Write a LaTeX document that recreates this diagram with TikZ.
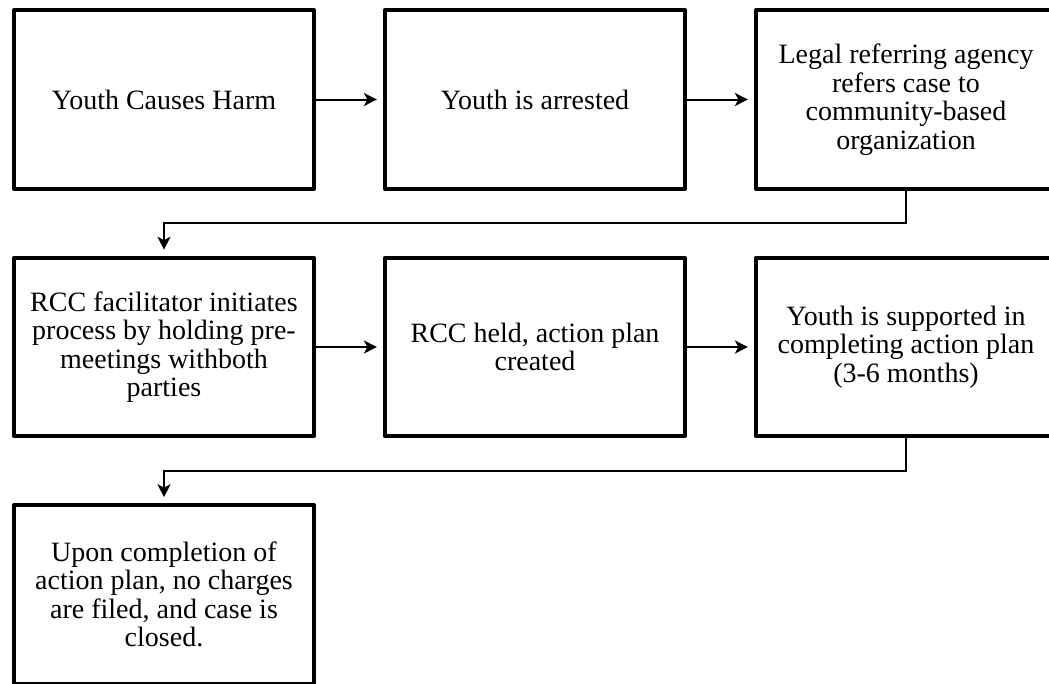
\documentclass[tikz,border=0pt]{standalone}
\usepackage{fontspec}
\setmainfont{Liberation Serif}
\usetikzlibrary{arrows.meta}
\begin{document}
\begin{tikzpicture}[x=1pt,y=-1pt,
  stepbox/.style={draw=black,line width=4.2pt,line join=round,minimum width=300pt,minimum height=178.4pt,
    inner sep=0pt,align=center,font=\fontsize{28pt}{28.5pt}\selectfont},
  conn/.style={line width=2pt,-{Stealth[length=13pt,width=13pt,inset=3.5pt]},shorten >=6pt}]
\useasboundingbox (0,0) rectangle (1049,683);
\node[stepbox] (b1) at (164,99.5) {Youth Causes Harm};
\node[stepbox] (b2) at (535,99.5) {Youth is arrested};
\node[stepbox] (b3) at (906,99.5) {Legal referring agency\\refers case to\\community-based\\organization};
\node[stepbox] (b4) at (164,347) {RCC facilitator initiates\\process by holding pre-\\meetings withboth\\parties};
\node[stepbox] (b5) at (535,347) {RCC held, action plan\\created};
\node[stepbox] (b6) at (906,347) {Youth is supported in\\completing action plan\\(3-6 months)};
\node[stepbox] (b7) at (164,594.5) {Upon completion of\\action plan, no charges\\are filed, and case is\\closed.};
\coordinate (c1) at (906,222.5);
\coordinate (c2) at (164,222.5);
\coordinate (c3) at (906,470.5);
\coordinate (c4) at (164,470.5);
\draw[conn] (b1.east) -- (b2.west);
\draw[conn] (b2.east) -- (b3.west);
\draw[conn] (b4.east) -- (b5.west);
\draw[conn] (b5.east) -- (b6.west);
\draw[conn] (b3.south) -- (c1) -- (c2) -- (b4.north);
\draw[conn] (b6.south) -- (c3) -- (c4) -- (b7.north);
\end{tikzpicture}
\end{document}
